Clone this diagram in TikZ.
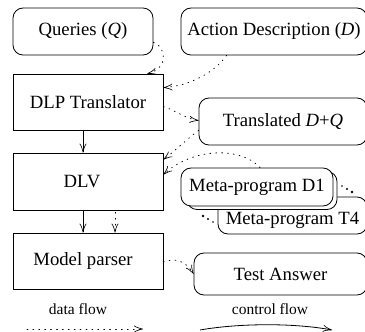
\documentclass[tikz,border=0pt]{standalone}
\usepackage{fontspec}
\setmainfont{Liberation Serif}
\usetikzlibrary{arrows.meta}
\tikzset{
  tip/.style={-{Classical TikZ Rightarrow[length=9pt,width=7pt]}},
  rbox/.style={draw, rounded corners=10pt, inner sep=0pt, fill=white, font=\fontsize{18.7}{22}\selectfont},
  sbox/.style={draw, inner sep=0pt, fill=white, font=\fontsize{18.7}{22}\selectfont},
  dataflow/.style={tip, dash pattern=on 0.9pt off 5pt, line cap=round},
  ctrlflow/.style={tip},
  legend/.style={font=\fontsize{15.5}{18}\selectfont, inner sep=0pt},
  ddot/.style={fill=black, draw=none, circle, inner sep=0pt}
}
\begin{document}
\begin{tikzpicture}[x=1pt,y=-1pt,line width=0.8pt]
\useasboundingbox[fill=white] (0,0) rectangle (365,332);
% boxes
\node[rbox, minimum width=140pt, minimum height=47pt] (Q) at (83,31.5) {Queries (\textit{Q})};
\node[rbox, minimum width=186pt, minimum height=47pt] (A) at (274,31.5) {Action Description (\textit{D})};
\node[sbox, minimum width=150pt, minimum height=56pt] (T) at (88,102) {DLP Translator};
\node[rbox, minimum width=168pt, minimum height=47pt] (TR) at (283,121.5) {Translated \textit{D}+\textit{Q}};
\node[sbox, minimum width=150pt, minimum height=57pt] (V) at (88,181.5) {\hspace*{-12pt}DLV};
\node[sbox, minimum width=150pt, minimum height=56pt] (M) at (88,261) {\hspace*{-10pt}Model parser};
\node[rbox, minimum width=173pt, minimum height=42pt] (TA) at (280.5,274) {Test Answer};
% meta-program stack
\node[rbox, minimum width=149pt, minimum height=37pt] (T4) at (292.5,215.5) {\raisebox{-9pt}[0pt][0pt]{Meta-program T4}};
\node[rbox, minimum width=150pt, minimum height=38pt] (SH) at (262,190.5) {};
\node[rbox, minimum width=152pt, minimum height=38pt] (D1) at (257,187) {\raisebox{-2pt}{Meta-program D1}};
% dots
\foreach \p/\r [count=\i] in {{(342,186)}/0.9, {(347,189)}/1.1, {(352,192)}/1.3}
  \node[ddot, minimum size=2*\r pt] (du\i) at \p {};
\foreach \p/\r [count=\i] in {{(203,216)}/1.3, {(208,219)}/1.1, {(213,222)}/0.9}
  \node[ddot, minimum size=2*\r pt] (dl\i) at \p {};
% connectors
\coordinate (q1) at ([shift={(0,-13)}]Q.south east);
\coordinate (q2) at ([shift={(-16,0)}]T.north east);
\draw[dataflow] (q1) .. controls (165,45) and (170,68) .. (q2);
\coordinate (a1) at ([shift={(46,0)}]A.south west);
\coordinate (a2) at ([shift={(0,14)}]T.north east);
\draw[dataflow] (a1) .. controls (215,72) and (190,86) .. (a2);
\coordinate (t1) at ([shift={(0,33)}]T.north east);
\coordinate (t2) at ([shift={(0,-1)}]TR.west);
\draw[dataflow] (t1) .. controls (175,110) and (186,119) .. (t2);
\coordinate (r1) at ([shift={(0,-15)}]TR.south west);
\coordinate (r2) at ([shift={(0,7)}]V.north east);
\draw[dataflow] (r1) .. controls (186,140) and (176,150) .. (r2);
\coordinate (d1) at ([shift={(3,0)}]D1.north);
\coordinate (v2) at ([shift={(0,22)}]V.north east);
\draw[dataflow] (d1) .. controls (240,146) and (192,148) .. (v2);
\draw[ctrlflow] (T.south -| 83,0) -- (V.north -| 83,0);
\draw[ctrlflow] (V.south -| 83,0) -- (M.north -| 83,0);
\coordinate (v3) at ([shift={(0,2)}]V.south -| 115,0);
\draw[dataflow] (v3) -- (M.north -| 115,0);
\coordinate (m1) at ([shift={(0,1)}]M.east);
\draw[dataflow] (m1) .. controls (175,258) and (185,260) .. (TA.west);
% legend
\node[legend] (LD) at (78,309) {data flow};
\node[legend] (LC) at (270,309) {control flow};
\coordinate (ld1) at (27,329);
\coordinate (ld2) at (143,329);
\draw[dataflow] (ld1) -- (ld2);
\coordinate (lc1) at (200,330);
\coordinate (lc2) at (332,330);
\draw[ctrlflow] (lc1) .. controls (240,323) and (295,323) .. (lc2);
\end{tikzpicture}
\end{document}
